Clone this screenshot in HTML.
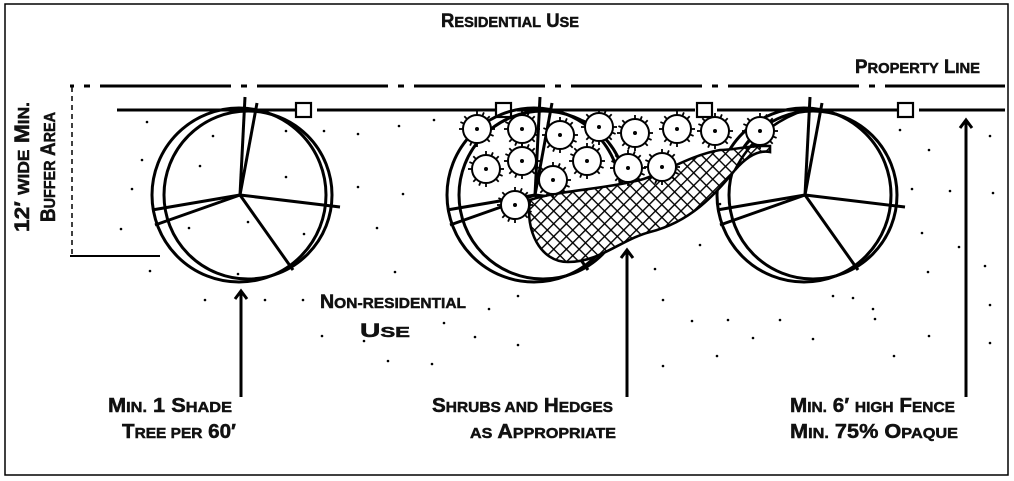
<!DOCTYPE html>
<html><head><meta charset="utf-8"><style>
html,body{margin:0;padding:0;background:#fff;}
svg{display:block;}
text{font-family:"Liberation Sans Narrow","Liberation Sans",sans-serif;font-weight:bold;fill:#111;stroke:#111;stroke-width:0.5;}
</style></head><body>
<svg width="1014" height="481" viewBox="0 0 1014 481" xmlns="http://www.w3.org/2000/svg">
<defs>
<pattern id="hatch" width="9" height="9" patternUnits="userSpaceOnUse" patternTransform="rotate(45)">
<rect width="9" height="9" fill="#fff"/>
<path d="M0 0H9M0 0V9" stroke="#000" stroke-width="2.8"/>
</pattern>
<g id="shrub">
<circle r="14" fill="#fff" stroke="#000" stroke-width="2"/>
<g stroke="#000" stroke-width="1.8">
<line x1="0" y1="-14" x2="0" y2="-18"/><line x1="0" y1="14" x2="0" y2="18"/>
<line x1="-14" y1="0" x2="-18" y2="0"/><line x1="14" y1="0" x2="18" y2="0"/>
<line x1="10" y1="10" x2="12.7" y2="12.7"/><line x1="-10" y1="10" x2="-12.7" y2="12.7"/>
<line x1="10" y1="-10" x2="12.7" y2="-12.7"/><line x1="-10" y1="-10" x2="-12.7" y2="-12.7"/>
<line x1="5.4" y1="-13" x2="6.9" y2="-16.6"/><line x1="-5.4" y1="13" x2="-6.9" y2="16.6"/>
<line x1="13" y1="5.4" x2="16.6" y2="6.9"/><line x1="-13" y1="-5.4" x2="-16.6" y2="-6.9"/>
</g>
<circle r="2" fill="#000"/>
</g>
<g id="tree">
<circle cx="-1" cy="0" r="87" fill="none" stroke="#000" stroke-width="3"/>
<circle cx="8" cy="0" r="84" fill="none" stroke="#000" stroke-width="3"/>
<g stroke="#000" stroke-width="3">
<line x1="0" y1="0" x2="5" y2="-98"/>
<line x1="0" y1="0" x2="17" y2="-92"/>
<line x1="0" y1="0" x2="-88" y2="15"/>
<line x1="0" y1="0" x2="-85" y2="30"/>
<line x1="0" y1="0" x2="100" y2="12"/>
<line x1="0" y1="0" x2="53" y2="75"/>
</g>
</g>
</defs>
<rect x="5" y="4" width="1003" height="471" fill="#fff" stroke="#000" stroke-width="1.5"/>

<g fill="#000">
<circle cx="147" cy="122" r="1.3"/><circle cx="142" cy="160" r="1.3"/><circle cx="132" cy="189" r="1.3"/><circle cx="121" cy="229" r="1.3"/><circle cx="150" cy="271" r="1.3"/>
<circle cx="213" cy="136" r="1.3"/><circle cx="200" cy="166" r="1.3"/><circle cx="286" cy="131" r="1.3"/><circle cx="286" cy="177" r="1.3"/><circle cx="189" cy="228" r="1.3"/>
<circle cx="248" cy="222" r="1.3"/><circle cx="304" cy="234" r="1.3"/><circle cx="238" cy="274" r="1.3"/><circle cx="205" cy="300" r="1.3"/><circle cx="324" cy="131" r="1.3"/>
<circle cx="358" cy="187" r="1.3"/><circle cx="377" cy="228" r="1.3"/><circle cx="395" cy="272" r="1.3"/><circle cx="358" cy="134" r="1.3"/><circle cx="399" cy="126" r="1.3"/>
<circle cx="434" cy="120" r="1.3"/><circle cx="403" cy="194" r="1.3"/><circle cx="303" cy="300" r="1.3"/><circle cx="265" cy="300" r="1.3"/>
<circle cx="444" cy="323" r="1.3"/><circle cx="489" cy="309" r="1.3"/><circle cx="518" cy="296" r="1.3"/><circle cx="518" cy="345" r="1.3"/><circle cx="388" cy="361" r="1.3"/>
<circle cx="432" cy="364" r="1.3"/><circle cx="475" cy="337" r="1.3"/><circle cx="322" cy="336" r="1.3"/><circle cx="364" cy="341" r="1.3"/>
<circle cx="663" cy="300" r="1.3"/><circle cx="692" cy="321" r="1.3"/><circle cx="728" cy="320" r="1.3"/><circle cx="780" cy="320" r="1.3"/><circle cx="753" cy="338" r="1.3"/>
<circle cx="717" cy="356" r="1.3"/><circle cx="813" cy="339" r="1.3"/><circle cx="833" cy="296" r="1.3"/><circle cx="875" cy="319" r="1.3"/><circle cx="894" cy="356" r="1.3"/>
<circle cx="873" cy="309" r="1.3"/><circle cx="929" cy="336" r="1.3"/><circle cx="853" cy="298" r="1.3"/><circle cx="655" cy="269" r="1.3"/><circle cx="663" cy="366" r="1.3"/>
<circle cx="990" cy="136" r="1.3"/><circle cx="993" cy="193" r="1.3"/><circle cx="985" cy="266" r="1.3"/><circle cx="990" cy="305" r="1.3"/><circle cx="990" cy="343" r="1.3"/>
<circle cx="929" cy="150" r="1.3"/><circle cx="950" cy="191" r="1.3"/><circle cx="959" cy="247" r="1.3"/><circle cx="928" cy="272" r="1.3"/><circle cx="922" cy="233" r="1.3"/>
<circle cx="900" cy="130" r="1.3"/><circle cx="912" cy="189" r="1.3"/><circle cx="700" cy="245" r="1.3"/><circle cx="720" cy="204" r="1.3"/>
</g>

<line x1="70" y1="86" x2="1005" y2="86" stroke="#000" stroke-width="3" stroke-dasharray="131 10 6 10" stroke-dashoffset="-30"/>
<g stroke="#000" stroke-width="3">
<line x1="117" y1="110" x2="295" y2="110"/>
<line x1="317" y1="110" x2="495" y2="110"/>
<line x1="517" y1="110" x2="695" y2="110"/>
<line x1="717" y1="110" x2="897" y2="110"/>
<line x1="919" y1="110" x2="1005" y2="110"/>
</g>
<g fill="#fff" stroke="#000" stroke-width="2.2">
<rect x="296" y="103" width="15" height="14"/>
<rect x="496" y="103" width="15" height="14"/>
<rect x="697" y="103" width="15" height="14"/>
<rect x="898" y="103" width="15" height="14"/>
</g>

<line x1="72" y1="87" x2="72" y2="256" stroke="#000" stroke-width="1.5" stroke-dasharray="5 4"/>
<line x1="70" y1="256" x2="160" y2="256" stroke="#000" stroke-width="2"/>

<use href="#tree" x="240" y="195"/>
<use href="#tree" x="535" y="195"/>
<use href="#tree" x="805" y="195"/>

<path d="M530 200 C 525 230, 540 262, 568 262 C 600 262, 620 240, 650 232 C 690 222, 715 195, 735 170 C 748 155, 760 150, 770 152 L 770 146 C 750 145, 735 150, 720 150 C 690 155, 660 175, 640 180 C 600 190, 560 190, 530 200 Z" fill="url(#hatch)" stroke="#000" stroke-width="2.6"/>
<path d="M 735 170 C 750 140, 775 120, 805 110" fill="none" stroke="#000" stroke-width="2.6"/>

<g>
<use href="#shrub" x="477" y="129"/>
<use href="#shrub" x="522" y="129"/>
<use href="#shrub" x="560" y="135"/>
<use href="#shrub" x="599" y="127"/>
<use href="#shrub" x="635" y="133"/>
<use href="#shrub" x="677" y="129"/>
<use href="#shrub" x="715" y="131"/>
<use href="#shrub" x="760" y="131"/>
<use href="#shrub" x="486" y="169"/>
<use href="#shrub" x="522" y="161"/>
<use href="#shrub" x="587" y="161"/>
<use href="#shrub" x="628" y="168"/>
<use href="#shrub" x="662" y="167"/>
<use href="#shrub" x="553" y="180"/>
<use href="#shrub" x="515" y="205"/>
</g>

<g stroke="#000" stroke-width="3" fill="none">
<line x1="241" y1="291" x2="241" y2="397"/>
<polyline points="235,299 241,291 247,299"/>
<line x1="627" y1="250" x2="627" y2="397"/>
<polyline points="621,258 627,250 633,258"/>
<line x1="966" y1="120" x2="966" y2="397"/>
<polyline points="960,128 966,120 972,128"/>
</g>

<text x="510" y="27" text-anchor="middle" font-size="19" textLength="138" lengthAdjust="spacingAndGlyphs">R<tspan font-size="15">ESIDENTIAL</tspan> U<tspan font-size="15">SE</tspan></text>
<text x="855" y="73" font-size="19" textLength="125" lengthAdjust="spacingAndGlyphs">P<tspan font-size="15">ROPERTY</tspan> L<tspan font-size="15">INE</tspan></text>
<text x="320" y="308" font-size="19" textLength="146" lengthAdjust="spacingAndGlyphs">N<tspan font-size="15">ON-RESIDENTIAL</tspan></text>
<text x="360" y="337" font-size="19" textLength="50" lengthAdjust="spacingAndGlyphs">U<tspan font-size="15">SE</tspan></text>
<text x="108" y="412" font-size="20" textLength="124" lengthAdjust="spacingAndGlyphs">M<tspan font-size="15">IN.</tspan> 1 S<tspan font-size="15">HADE</tspan></text>
<text x="122" y="438" font-size="20" textLength="114" lengthAdjust="spacingAndGlyphs">T<tspan font-size="15">REE PER</tspan> 60′</text>
<text x="432" y="412" font-size="20" textLength="181" lengthAdjust="spacingAndGlyphs">S<tspan font-size="15">HRUBS AND</tspan>  H<tspan font-size="15">EDGES</tspan></text>
<text x="470" y="438" font-size="20" textLength="146" lengthAdjust="spacingAndGlyphs"><tspan font-size="15">AS</tspan> A<tspan font-size="15">PPROPRIATE</tspan></text>
<text x="790" y="412" font-size="20" textLength="165" lengthAdjust="spacingAndGlyphs">M<tspan font-size="15">IN.</tspan> 6′ <tspan font-size="15">HIGH</tspan> F<tspan font-size="15">ENCE</tspan></text>
<text x="790" y="438" font-size="20" textLength="168" lengthAdjust="spacingAndGlyphs">M<tspan font-size="15">IN.</tspan> 75% O<tspan font-size="15">PAQUE</tspan></text>
<text transform="translate(29,232) rotate(-90)" font-size="21" textLength="130" lengthAdjust="spacingAndGlyphs">12′ <tspan font-size="16">WIDE</tspan> M<tspan font-size="16">IN.</tspan></text>
<text transform="translate(55,222) rotate(-90)" font-size="21" textLength="110" lengthAdjust="spacingAndGlyphs">B<tspan font-size="16">UFFER</tspan> A<tspan font-size="16">REA</tspan></text>
</svg>
</body></html>
